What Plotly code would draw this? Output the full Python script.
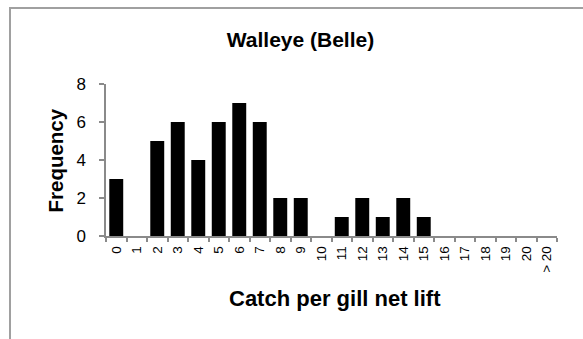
import plotly.graph_objects as go

categories = [str(i) for i in range(21)] + ["> 20"]
frequency = [3, 0, 5, 6, 4, 6, 7, 6, 2, 2, 0, 1, 2, 1, 2, 1, 0, 0, 0, 0, 0, 0]
y_ticks = [0, 2, 4, 6, 8]

W, H = 583, 339
L, R, T, B = 106, 26, 84, 103
PW, PH = W - L - R, H - T - B


def px_x(p):
    return (p - L) / PW


def px_y(p):
    return (H - B - p) / PH


FONT = "Liberation Sans, Arial, sans-serif"
AXIS_COLOR = "#8a8a8a"

fig = go.Figure(
    go.Bar(
        x=categories,
        y=frequency,
        marker=dict(color="black", line=dict(width=0)),
    )
)

fig.update_layout(
    width=W,
    height=H,
    margin=dict(l=L, r=R, t=T, b=B, pad=0),
    paper_bgcolor="white",
    plot_bgcolor="white",
    bargap=0.32,
    showlegend=False,
    font=dict(family=FONT, color="black"),
    title=dict(
        text="<b>Walleye (Belle)</b>",
        font=dict(family=FONT, size=21, color="black"),
        xref="container",
        yref="container",
        x=300.5 / W,
        xanchor="center",
        y=1 - 40 / H,
        yanchor="middle",
    ),
    xaxis=dict(
        type="category",
        showline=True,
        linecolor=AXIS_COLOR,
        linewidth=1.5,
        ticks="outside",
        tickson="boundaries",
        ticklen=4,
        tickwidth=1.5,
        tickcolor=AXIS_COLOR,
        tickangle=-90,
        tickfont=dict(family=FONT, size=13.5, color="black"),
        ticklabelstandoff=3,
        showgrid=False,
        zeroline=False,
        fixedrange=True,
    ),
    yaxis=dict(
        range=[0, 8],
        tickvals=y_ticks,
        showline=True,
        linecolor=AXIS_COLOR,
        linewidth=1.5,
        ticks="outside",
        ticklen=5,
        tickwidth=1.5,
        tickcolor=AXIS_COLOR,
        tickfont=dict(family=FONT, size=17, color="black"),
        ticklabelstandoff=10,
        showgrid=False,
        zeroline=False,
        fixedrange=True,
    ),
    annotations=[
        dict(
            text="<b>Frequency</b>",
            xref="paper",
            yref="paper",
            x=px_x(55),
            y=px_y(160.5),
            xanchor="center",
            yanchor="middle",
            textangle=-90,
            showarrow=False,
            font=dict(family=FONT, size=20.5, color="black"),
        ),
        dict(
            text="<b>Catch per gill net lift</b>",
            xref="paper",
            yref="paper",
            x=px_x(335),
            y=px_y(298),
            xanchor="center",
            yanchor="middle",
            showarrow=False,
            font=dict(family=FONT, size=22, color="black"),
        ),
    ],
    shapes=[
        dict(
            type="rect",
            xref="paper",
            yref="paper",
            x0=px_x(10),
            y0=px_y(700),
            x1=px_x(900),
            y1=px_y(8),
            line=dict(color="#a0a0a0", width=2),
            fillcolor="rgba(0,0,0,0)",
            layer="below",
        )
    ],
)

fig.write_html("out.html")
